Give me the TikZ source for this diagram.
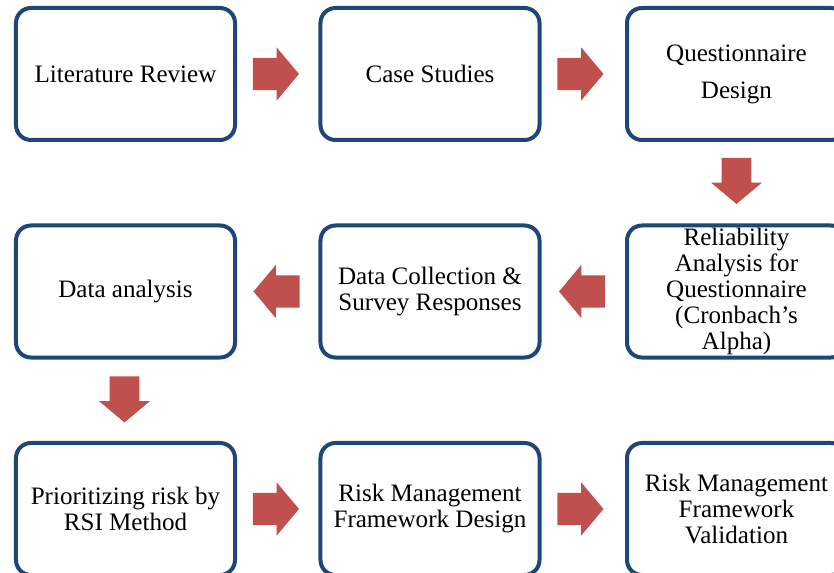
\documentclass[tikz,border=0pt]{standalone}
\usepackage{fontspec}
\setmainfont{Liberation Serif}
\usetikzlibrary{shapes.arrows, calc}
\definecolor{boxblue}{HTML}{1F4678}
\definecolor{arrowred}{HTML}{C0504D}

\begin{document}
\begin{tikzpicture}[x=0.03cm, y=-0.03cm,
    stage/.style={draw=boxblue, line width=0.12cm, rounded corners=0.45cm,
      fill=white, minimum width=6.57cm, minimum height=3.96cm, align=center,
      inner sep=0pt, font=\fontsize{21.4}{22.2}\selectfont},
    flow/.style={single arrow, fill=arrowred, draw=none, inner xsep=0pt,
      inner ysep=0.48cm, minimum height=1.38cm, single arrow head extend=0.315cm,
      single arrow tip angle=100, anchor=tail},
    flowdown/.style={flow, inner xsep=0.44cm, inner ysep=0pt,
      shape border rotate=270}]
    \useasboundingbox (0,0) rectangle (834,573);

    % Row 1
    \node[stage] (litreview) at (125.5,74) {Literature Review};
    \node[stage] (casestudy) at (430,74) {Case Studies};
    \node[stage] (qdesign) at (736.5,74) {Questionnaire\\[0.33cm]Design};

    % Row 2
    \node[stage] (reliab) at (736.5,291.5) {Reliability\\Analysis for\\Questionnaire\\(Cronbach's\\Alpha)};
    \node[stage] (collect) at (430,291.5) {Data Collection \&\\Survey Responses};
    \node[stage] (analysis) at (125.5,291.5) {Data analysis};

    % Row 3
    \node[stage] (rsi) at (125.5,509) {Prioritizing risk by\\RSI Method};
    \node[stage] (rmdesign) at (430,509) {Risk Management\\Framework Design};
    \node[stage] (rmvalid) at (736.5,509) {Risk Management\\Framework\\Validation};

    % Block arrows between the stages (placed by their tails)
    \node[flow] (a1) at ($(litreview.east)!0.5!(casestudy.west) + (-25,0)$) {};
    \node[flow] (a2) at ($(casestudy.east)!0.5!(qdesign.west) + (-26,0)$) {};
    \node[flowdown] (a3) at ($(qdesign.south)!0.5!(reliab.north) + (0,-25)$) {};
    \node[flow, shape border rotate=180] (a4) at ($(reliab.west)!0.5!(collect.east) + (22,0)$) {};
    \node[flow, shape border rotate=180] (a5) at ($(collect.west)!0.5!(analysis.east) + (22,0)$) {};
    \node[flowdown] (a6) at ($(analysis.south)!0.5!(rsi.north) + (-1,-24)$) {};
    \node[flow] (a7) at ($(rsi.east)!0.5!(rmdesign.west) + (-25,0)$) {};
    \node[flow] (a8) at ($(rmdesign.east)!0.5!(rmvalid.west) + (-26,0)$) {};
\end{tikzpicture}
\end{document}
